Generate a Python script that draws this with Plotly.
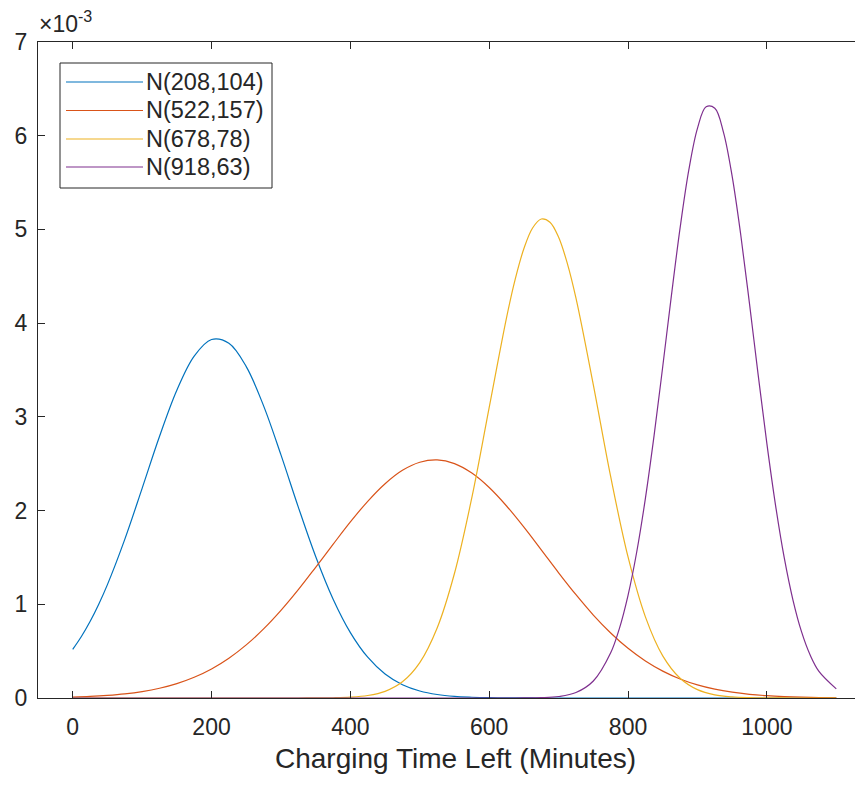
import plotly.graph_objects as go

# ---- data (values in units of 1e-3) ----
series_names = ["N(208,104)", "N(522,157)", "N(678,78)", "N(918,63)"]
series_colors = ["#0072BD", "#D95319", "#EDB120", "#7E2F8E"]

blue_x = [0, 12.5, 25, 37.5] + list(range(50, 1101, 25))
blue_y = [0.519, 0.656, 0.816, 1.001, 1.210, 1.693, 2.237, 2.790, 3.284, 3.648, 3.825, 3.785,
          3.536, 3.117, 2.594, 2.037, 1.510, 1.057, 0.698, 0.435, 0.256, 0.142,
          0.075, 0.037, 0.017, 0.008, 0.003, 0.001, 0.0005, 0.0002, 0, 0,
          0, 0, 0, 0, 0, 0, 0, 0, 0, 0,
          0, 0, 0, 0, 0]

orange_x = list(range(0, 1101, 25))
orange_y = [0.0101, 0.0169, 0.0277, 0.0441, 0.0686, 0.1039, 0.1535, 0.2210, 0.310, 0.4246,
            0.5667, 0.737, 0.935, 1.156, 1.395, 1.639, 1.879, 2.099, 2.287, 2.430,
            2.516, 2.541, 2.501, 2.400, 2.246, 2.049, 1.823, 1.581, 1.336, 1.102,
            0.885, 0.694, 0.530, 0.395, 0.287, 0.203, 0.140, 0.0943, 0.0618, 0.0396,
            0.0247, 0.0150, 0.0089, 0.0051, 0.0029]

yellow_x = (list(range(0, 626, 25))
            + [637.5, 650, 662.5, 675, 687.5, 700, 712.5, 725]
            + list(range(750, 1101, 25)))
yellow_y = [0, 0, 0, 0, 0, 0, 0, 0, 0, 0,
            0, 0, 0, 0.0002, 0.0007, 0.0027, 0.0089, 0.0266, 0.0713, 0.173,
            0.378, 0.747, 1.331, 2.139, 3.102, 4.060,
            4.470, 4.796, 5.015, 5.111, 5.077, 4.916, 4.638, 4.266,
            3.341, 2.361, 1.505, 0.866, 0.450, 0.211, 0.0891, 0.0340, 0.0117, 0.0036,
            0.0010, 0.0003, 0.0001, 0, 0]

purple_x = (list(range(0, 776, 25))
            + [787.5, 800, 812.5, 825, 837.5, 850, 862.5, 875, 887.5, 900, 912.5,
               925, 937.5, 950, 962.5, 975, 987.5, 1000, 1012.5, 1025, 1037.5, 1050,
               1062.5, 1075, 1100])
purple_y = [0, 0, 0, 0, 0, 0, 0, 0, 0, 0,
            0, 0, 0, 0, 0, 0, 0, 0, 0, 0,
            0, 0, 0, 0, 0, 0.0001, 0.0007, 0.0037, 0.0159, 0.058,
            0.181, 0.482,
            0.741, 1.096, 1.558, 2.130, 2.799, 3.537, 4.296, 5.016, 5.632, 6.079, 6.308,
            6.293, 6.036, 5.566, 4.935, 4.205, 3.446, 2.714, 2.056, 1.497, 1.048, 0.705,
            0.456, 0.284, 0.0976]

x_ticks = [0, 200, 400, 600, 800, 1000]
y_ticks = [0, 1, 2, 3, 4, 5, 6, 7]
x_label = "Charging Time Left (Minutes)"
exp_label = "×10<sup>-3</sup>"

# ---- layout geometry (page offset of 8px from body margin) ----
OFF = 8
W, H = 863, 785
L, R, T, B = 30, 0, 34, 95
PW, PH = W - L - R, H - T - B
FONT = "Liberation Sans, Arial, Helvetica, sans-serif"
AX = "#262626"


def px(x):
    return (x - OFF - L) / PW


def py(y):
    return (T + PH - (y - OFF)) / PH


fig = go.Figure()
all_series = [(blue_x, blue_y), (orange_x, orange_y), (yellow_x, yellow_y), (purple_x, purple_y)]
for name, col, (xs, ys) in zip(series_names, series_colors, all_series):
    fig.add_trace(go.Scatter(x=xs, y=ys, mode="lines", name=name,
                             line=dict(color=col, width=1.2, shape="spline", smoothing=1.0),
                             showlegend=False))

# MATLAB-like legend box
shapes = [dict(type="rect", xref="paper", yref="paper",
               x0=px(60), x1=px(272), y0=py(188), y1=py(63),
               line=dict(color=AX, width=1), fillcolor="white", layer="above")]
annotations = []
rows = [82, 110.5, 139, 167]
for name, col, ry in zip(series_names, series_colors, rows):
    shapes.append(dict(type="line", xref="paper", yref="paper",
                       x0=px(66), x1=px(143), y0=py(ry), y1=py(ry),
                       line=dict(color=col, width=1.2), layer="above"))
    annotations.append(dict(text=name, xref="paper", yref="paper",
                            x=px(144), y=py(ry), xanchor="left", yanchor="middle",
                            showarrow=False, font=dict(family=FONT, size=23.5, color=AX)))

annotations.append(dict(text=x_label, xref="paper", yref="paper",
                        x=px(455), y=py(758), xanchor="center", yanchor="middle",
                        showarrow=False, font=dict(family=FONT, size=28, color=AX)))
annotations.append(dict(text=exp_label, xref="paper", yref="paper",
                        x=px(37), y=py(39), xanchor="left", yanchor="bottom",
                        showarrow=False, font=dict(family=FONT, size=23, color=AX)))

fig.update_layout(
    width=W, height=H,
    margin=dict(l=L, r=R, t=T, b=B, pad=0),
    paper_bgcolor="white", plot_bgcolor="white",
    shapes=shapes, annotations=annotations,
    xaxis=dict(range=[-50, 1150], tickvals=x_ticks, ticks="inside", ticklen=7,
               tickcolor=AX, showline=True, linecolor=AX, linewidth=1,
               mirror="ticks", showgrid=False, zeroline=False,
               tickfont=dict(family=FONT, size=23, color=AX), ticklabelstandoff=8),
    yaxis=dict(range=[0, 7], tickvals=y_ticks, ticks="inside", ticklen=7,
               tickcolor=AX, showline=True, linecolor=AX, linewidth=1,
               mirror="ticks", showgrid=False, zeroline=False,
               tickfont=dict(family=FONT, size=23, color=AX), ticklabelstandoff=5),
)

fig.write_html("out.html")
